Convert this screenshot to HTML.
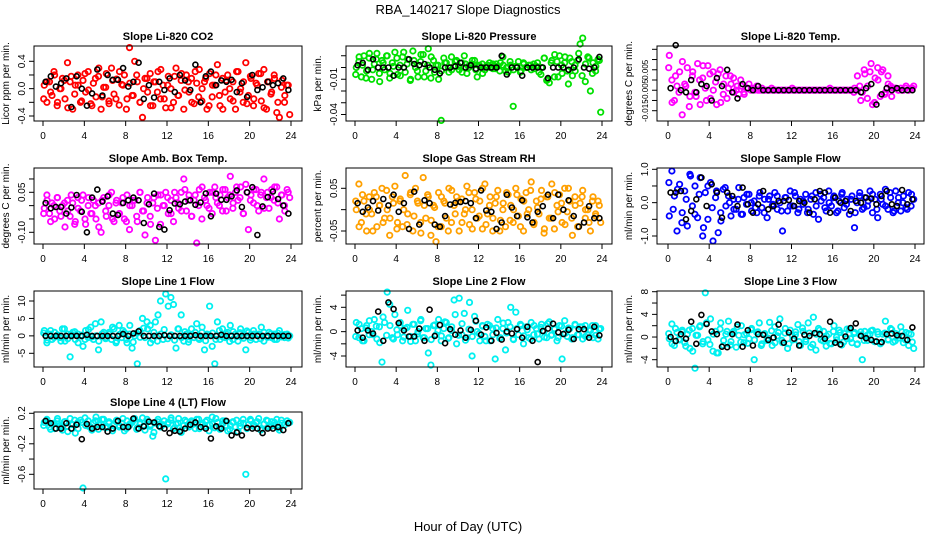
<!DOCTYPE html>
<html><head><meta charset="utf-8">
<style>
html,body{margin:0;padding:0;background:#fff;}
svg{display:block;font-family:"Liberation Sans",Arial,sans-serif;}
</style></head>
<body>
<svg id="chart" width="936" height="540" viewBox="0 0 936 540" xmlns="http://www.w3.org/2000/svg">
<rect x="0" y="0" width="936" height="540" fill="#fff"/>
<text x="468" y="14" text-anchor="middle" font-size="13">RBA_140217  Slope Diagnostics</text>
<text x="468" y="531" text-anchor="middle" font-size="13">Hour of Day (UTC)</text>
</svg>
<script>
const xTicks=[0,4,8,12,16,20,24];
const titles=["Slope Li-820 CO2","Slope Li-820 Pressure","Slope Li-820 Temp.","Slope Amb. Box Temp.","Slope Gas Stream RH","Slope Sample Flow","Slope Line 1 Flow","Slope Line 2 Flow","Slope Line 3 Flow","Slope Line 4 (LT) Flow"];
const yLabels=["Licor ppm per min.","kPa per min.","degrees C per min.","degrees C per min.","percent per min.","ml/min per min.","ml/min per min.","ml/min per min.","ml/min per min.","ml/min per min."];
const colors=["#ff0000","#00e000","#ff00ff","#ff00ff","#ffa000","#0000ff","#00f0f0","#00f0f0","#00f0f0","#00f0f0"];
const yTicks=[[-0.4,-0.2,0,0.2,0.4],[-0.04,-0.03,-0.02,-0.01,0,0.01],[-0.015,-0.01,-0.005,0,0.005,0.01,0.015],[-0.1,-0.05,0,0.05,0.1],[-0.05,0,0.05],[-1,-0.5,0,0.5,1],[-5,0,5,10],[-4,-2,0,2,4,6],[-4,-2,0,2,4,6,8],[-0.6,-0.4,-0.2,0,0.2]];
const yTickLabels=[["-0.4","","0.0","","0.4"],["-0.04","","","-0.01","",""],["-0.015","","-0.005","","0.005","",""],["-0.10","","","0.05",""],["-0.05","","0.05"],["-1.0","","0.0","","1.0"],["-5","0","5","10"],["-4","","0","","4",""],["-4","","0","","4","","8"],["-0.6","","-0.2","","0.2"]];

const co2=[0.05,-0.2,0.1,-0.1,0.2,-0.25,0.0,0.15,-0.15,0.38,0.1,-0.3,0.05,0.2,-0.2,0.12,-0.05,0.25,-0.22,0.08,-0.12,0.18,-0.3,0.02,0.22,-0.18,0.3,-0.08,0.14,-0.24,0.06,0.2,-0.15,0.6,-0.1,0.4,0.1,-0.2,-0.42,0.15,-0.05,0.22,-0.25,0.1,0.25,-0.15,0.05,-0.28,0.18,0.0,-0.2,0.3,-0.1,0.12,-0.3,0.2,-0.05,0.15,-0.22,0.08,0.28,-0.18,0.1,-0.3,0.22,-0.12,0.05,0.35,-0.25,0.15,-0.05,0.2,-0.15,0.1,-0.3,0.25,0.0,-0.2,0.38,-0.1,0.15,-0.25,0.08,0.22,-0.18,0.28,-0.3,0.1,-0.05,0.2,-0.35,-0.42,0.12,-0.2,0.05,-0.38];
const co2B=[-0.15,0.1,-0.05,0.25,-0.2,0.0,0.12,-0.28,0.18,-0.08,0.05,-0.18,0.22,-0.02,-0.25,0.15,0.3,-0.12,0.02,-0.22,0.12,-0.15,0.25,0.05,-0.3,0.08,-0.1,0.2,-0.2,0.0,0.15,-0.25,0.1,-0.05,0.28,-0.15,0.05,-0.28,0.18,-0.1,0.22,-0.02,0.1,-0.2,0.25,-0.12,0.0,0.15,-0.25,0.05,0.2,-0.1,-0.3,0.12,0.0,-0.18,0.25,-0.05,0.1,-0.22,0.18,-0.15,0.05,0.22,-0.28,0.1,-0.08,0.15,-0.2,0.02,-0.1,0.05];
const co2Ref=[0.1,0.18,0.03,0.08,0.15,-0.27,0.18,0.0,-0.25,-0.07,0.28,-0.1,0.2,0.13,0.13,0.3,0.03,0.1,0.38,-0.15,0.05,-0.13,0.1,-0.02,0.15,-0.05,0.2,0.12,-0.02,0.35,-0.2,0.18,0.25,0.05,0.12,0.1,0.13,-0.05,0.08,-0.12,0.2,-0.02,0.02,0.1,0.05,0.08,0.15,-0.02];
const pres=[0.0,0.005,-0.008,0.01,-0.003,0.008,-0.01,0.003,0.012,-0.005,0.006,-0.002,0.01,-0.009,0.004,0.013,-0.006,0.002,0.009,-0.004,0.007,-0.011,0.014,0.0,-0.008,0.005,0.011,-0.003,0.016,-0.009,0.006,0.002,-0.01,-0.045,0.008,0.004,-0.004,0.009,0.001,0.006,-0.002,0.004,0.01,-0.005,0.002,0.003,0.006,-0.008,0.001,0.003,-0.002,0.002,0.0,0.003,-0.001,0.001,0.004,0.009,-0.003,-0.004,0.002,-0.033,0.001,0.005,-0.003,0.004,0.0,0.002,-0.002,0.003,0.001,-0.004,0.0,0.008,-0.011,-0.013,0.006,-0.008,0.005,0.01,-0.005,0.004,-0.003,0.008,-0.007,0.002,0.006,0.02,0.025,-0.012,0.009,-0.02,0.004,-0.003,0.007,-0.038];
const presB=[-0.006,0.009,0.002,-0.009,0.012,-0.002,0.007,-0.012,0.004,0.01,-0.005,0.001,0.008,-0.007,0.013,0.003,-0.01,0.006,-0.003,0.011,-0.008,0.002,0.009,-0.004,0.002,-0.003,0.004,0.0,-0.002,0.005,0.001,-0.004,0.003,0.0,0.006,-0.002,0.002,-0.005,0.001,0.004,-0.001,0.003,-0.003,0.002,0.0,0.005,-0.002,0.001,-0.004,0.003,0.0,0.002,-0.001,0.004,-0.006,0.008,-0.01,0.004,0.011,-0.008,0.002,0.009,-0.014,0.005,-0.003,0.012,-0.007,0.003,0.008,-0.005,0.001,0.006];
const presRef=[0.002,0.004,-0.002,0.007,0.0,0.0,0.0,-0.007,0.0,0.0,0.007,0.003,0.002,0.003,0.0,-0.002,-0.005,0.0,0.0,0.001,0.004,0.0,0.002,-0.001,0.0,0.0,0.0,0.0,0.010,-0.006,0.0,0.0,-0.007,0.0,0.0,0.0,0.0,-0.009,0.0,0.0,0.0,-0.002,0.0,0.007,0.0,-0.001,0.0,0.009];
const temp=[0.012,0.0,-0.01,-0.003,0.004,-0.017,-0.002,0.006,-0.008,0.002,-0.006,0.008,-0.012,0.001,-0.004,0.007,-0.009,0.004,-0.001,0.003,-0.011,-0.007,0.002,-0.004,-0.002,0.001,-0.005,-0.007,-0.003,-0.006,-0.004,-0.002,-0.004,-0.005,-0.003,-0.005,-0.004,-0.005,-0.005,-0.005,-0.005,-0.005,-0.005,-0.005,-0.005,-0.005,-0.005,-0.005,-0.005,-0.005,-0.005,-0.005,-0.005,-0.005,-0.005,-0.005,-0.005,-0.005,-0.005,-0.005,-0.005,-0.005,-0.005,-0.005,-0.005,-0.005,-0.005,-0.005,-0.005,-0.005,-0.005,-0.005,-0.004,-0.005,-0.003,-0.006,0.003,-0.009,0.004,-0.012,0.001,0.006,-0.008,0.005,-0.006,0.002,-0.003,-0.004,-0.004,-0.005,-0.004,-0.005,-0.003,-0.005,-0.004,-0.003];
const tempB=[0.006,-0.011,0.002,-0.006,0.009,-0.003,-0.013,0.004,-0.008,0.0,0.007,-0.01,0.003,-0.005,-0.012,0.005,-0.002,-0.009,0.002,-0.006,-0.003,0.0,-0.007,-0.004,-0.005,-0.004,-0.005,-0.005,-0.005,-0.005,-0.004,-0.005,-0.005,-0.005,-0.005,-0.005,-0.004,-0.005,-0.005,-0.005,-0.005,-0.005,-0.005,-0.005,-0.005,-0.005,-0.005,-0.004,-0.005,-0.005,-0.005,-0.005,-0.005,-0.005,-0.006,0.002,-0.01,0.005,-0.003,0.008,-0.011,0.0,0.004,-0.007,-0.002,-0.008,-0.004,-0.005,-0.005,-0.004,-0.005,-0.004];
const tempRef=[-0.004,0.017,-0.005,-0.006,0.0,-0.006,-0.002,-0.003,-0.01,0.001,-0.003,0.005,-0.006,-0.009,-0.002,-0.004,-0.005,-0.003,-0.005,-0.005,-0.005,-0.005,-0.005,-0.005,-0.005,-0.005,-0.005,-0.005,-0.005,-0.005,-0.005,-0.005,-0.005,-0.005,-0.005,-0.005,-0.005,-0.006,-0.004,-0.002,-0.012,-0.007,-0.004,-0.005,-0.004,-0.005,-0.005,-0.005];
const amb=[-0.01,0.04,-0.03,0.01,-0.05,0.03,-0.02,0.0,-0.08,0.02,-0.04,0.01,-0.06,0.03,-0.02,0.04,-0.07,0.0,-0.03,0.02,-0.05,0.01,-0.1,0.03,-0.04,0.0,0.05,-0.06,0.02,-0.03,0.01,-0.05,0.04,-0.09,0.0,0.02,-0.06,0.05,-0.02,-0.11,0.03,-0.04,0.01,-0.13,0.04,-0.07,0.0,0.05,-0.03,0.02,-0.06,0.03,-0.01,0.05,0.1,-0.02,0.04,-0.04,0.02,-0.14,0.06,-0.05,0.03,0.0,0.05,-0.03,0.07,0.01,0.04,-0.02,0.06,0.03,0.11,-0.01,0.05,0.02,0.07,-0.03,0.08,-0.09,0.04,0.01,0.06,-0.02,0.05,0.1,0.03,-0.01,0.06,0.02,0.07,-0.05,0.04,0.0,0.06,0.03];
const ambB=[-0.03,0.02,-0.06,0.0,0.03,-0.04,0.01,-0.02,0.04,-0.07,-0.01,0.02,-0.05,0.03,-0.03,0.0,-0.08,0.02,-0.02,0.04,-0.05,0.01,-0.03,0.03,-0.06,0.0,0.02,-0.04,0.05,-0.02,0.01,-0.07,0.03,-0.01,0.04,0.0,0.03,-0.03,0.05,0.01,-0.02,0.06,0.02,-0.04,0.04,0.0,0.07,0.02,-0.01,0.05,0.03,0.0,0.06,-0.02,0.04,0.01,0.07,0.03,-0.03,0.05,0.02,0.06,0.0,0.04,-0.01,0.05,0.03,0.07,0.01,0.04,-0.02,0.05];
const ambRef=[0.01,-0.01,-0.005,-0.005,-0.03,-0.007,0.04,-0.023,-0.1,0.03,0.06,0.015,0.035,-0.03,-0.035,0.01,0.02,0.03,0.02,-0.065,0.005,0.045,-0.08,-0.09,-0.017,0.008,0.005,0.015,0.02,0.003,0.012,0.046,-0.04,0.045,0.022,0.022,0.035,0.057,-0.005,0.05,0.069,-0.11,-0.003,0.032,0.053,0.025,0.0,-0.03];
const rh=[0.0,0.06,-0.03,0.02,-0.05,0.03,-0.01,0.04,-0.04,0.01,0.05,-0.02,0.0,-0.06,0.03,0.055,-0.03,0.02,-0.04,0.08,-0.01,0.035,-0.05,0.05,0.015,-0.03,0.075,-0.02,0.03,-0.06,0.01,-0.075,0.04,-0.04,0.02,-0.02,0.05,-0.03,0.01,0.03,-0.05,0.025,-0.01,0.055,-0.035,0.0,0.04,-0.02,0.02,-0.045,0.06,-0.01,0.03,-0.05,0.015,0.045,-0.025,0.0,-0.04,0.035,0.01,-0.03,0.05,-0.015,0.025,-0.05,0.04,0.0,0.065,-0.035,0.02,-0.01,0.045,-0.055,0.03,-0.02,0.06,-0.045,0.01,0.035,-0.03,0.05,-0.005,0.02,-0.06,0.03,-0.04,0.015,0.045,-0.02,0.0,-0.05,0.03,-0.01,0.02,-0.03];
const rhB=[0.02,-0.04,0.035,-0.01,0.0,-0.05,0.03,0.01,-0.03,0.045,-0.02,0.015,-0.045,0.025,0.0,-0.035,0.04,-0.015,0.02,-0.055,0.01,0.035,-0.025,0.005,-0.04,0.03,0.015,-0.05,0.045,-0.01,0.02,-0.03,0.0,0.04,-0.045,0.025,-0.015,0.05,-0.035,0.01,-0.02,0.03,-0.05,0.015,0.04,-0.025,0.0,0.035,-0.04,0.02,-0.01,0.045,-0.03,0.005,0.025,-0.045,0.03,-0.02,0.04,-0.005,0.015,-0.035,0.05,-0.02,0.01,-0.04,0.03,0.0,-0.03,0.02,-0.015,0.01];
const rhRef=[0.015,-0.005,0.005,0.02,-0.002,0.025,0.01,0.035,-0.005,0.015,-0.045,0.042,-0.035,0.022,0.015,-0.035,-0.04,-0.015,0.012,0.016,0.018,0.02,0.015,-0.02,0.045,-0.002,-0.005,-0.045,-0.03,0.035,0.005,-0.015,0.022,-0.018,-0.03,-0.005,0.008,0.035,-0.02,0.035,0.0,0.022,-0.015,-0.04,-0.03,0.008,-0.02,-0.02];
const samp=[-0.4,0.95,0.2,-0.85,0.55,-0.3,0.35,-0.7,0.85,-0.1,0.5,-0.45,0.75,-1.0,0.3,-0.5,0.6,-1.15,0.15,-0.9,-0.3,0.4,-0.1,0.2,-0.4,0.1,-0.2,0.45,-0.35,0.15,-0.05,0.25,-0.25,0.05,-0.3,0.2,-0.15,0.1,-0.45,0.2,-0.1,0.3,-0.2,0.0,-0.85,0.15,-0.25,0.35,-0.1,0.2,-0.3,0.1,-0.05,0.25,-0.2,0.1,-0.35,0.3,-0.5,0.05,0.15,-0.25,0.35,-0.1,0.2,-0.3,0.05,0.25,-0.15,0.1,-0.35,0.2,-0.75,0.0,0.3,-0.2,0.15,-0.1,0.35,-0.3,0.1,-0.45,0.25,-0.05,0.4,-0.2,0.15,-0.3,0.35,0.0,-0.25,0.2,-0.15,0.3,-0.1,0.1];
const sampB=[0.6,-0.2,0.4,-0.6,0.1,0.8,-0.35,0.25,-0.75,0.5,-0.15,0.35,-0.55,0.45,0.0,-0.2,0.1,-0.35,0.25,0.0,-0.15,0.3,-0.3,0.1,-0.05,0.2,-0.25,0.15,-0.1,0.3,-0.2,0.05,-0.3,0.2,-0.1,0.25,-0.15,0.0,0.15,-0.25,0.3,-0.05,0.1,-0.3,0.2,-0.15,0.05,0.25,-0.2,0.1,-0.1,0.3,-0.25,0.15,0.0,-0.2,0.25];
const sampRef=[0.3,0.3,0.35,-0.5,-0.25,0.1,0.75,-0.1,0.55,0.3,-0.45,0.3,0.2,-0.1,0.45,-0.05,-0.3,-0.05,0.35,-0.2,-0.1,0.05,0.05,0.08,-0.1,0.05,0.0,-0.3,0.1,0.35,0.3,-0.3,0.15,0.0,0.05,-0.25,0.05,0.0,0.15,0.12,-0.05,0.2,0.35,-0.05,-0.1,0.38,-0.05,0.1];
const line1=[1.5,-2,0.5,-1,1,0,-0.5,2,-1.5,0.5,-6,1,-1,0.5,0,-3,1.5,-0.5,2.5,-1,0,-4,4,1,-0.5,0.5,-1,2,-1.5,3,-0.5,1,-2,0.5,-3.5,0,-8,1.5,5,-0.5,2,3,-1,4,6,10,-1,12,8.5,11,9,-3.5,2,6,-1.5,0.5,-1,2,-0.5,3.5,-1,1,-4,0.5,8.5,-3,-8,4,-1,2,-0.5,1,3,-1,0.5,-1.5,2,0,-4,1,-0.5,1.5,-1,0.5,2.5,-1.5,0,1,-0.5,0.5,-1,1.5,0,-0.5,0.5,0];
const line1B=[0.8,-1.2,1.5,-0.5,0.3,-1.5,2,-0.8,0.5,1.2,-2,0.2,-1,1.8,-0.3,3.5,-1.5,0.6,-0.8,1,2.5,-2,0.4,1.5,-1,3,-1.8,0.8,-0.4,2.2,4,-2,1,-1.5,0.5,1.8,-0.8,0.3,-1.2,2,-0.5,1.2,-1.8,0.4,1,-0.6,2.5,-1.4,0.2,0.8,-1,1.5,-0.3,0.6,-1.6,1.2,-0.2,0.9,-0.7,1.4,-1.2,0.5,0.2,-0.8,1,-0.4,0.6,-1,0.8,-0.3,0.4,-0.6];
const line1Ref=[0,0,0,0,0,0,0,0,0.3,0,0,0,0,0,0,0.5,0,0.7,1.3,0,0,0,0,0.2,0,0,0,0,0,0.2,0,0,0,0,0.3,0,0,0,0,0,0,0,0,0,0,0,0,0];
const line2=[1.5,-1,0.5,-1.5,1,-0.5,0,2,-1.2,0.8,-5,1.5,6.5,4.5,-1,2.8,-0.5,1,-1.5,0.5,3.5,-0.8,1.2,-1.5,0,1.8,-1,0.5,-3.5,-5.5,1,-0.5,2,-1.5,0.5,1.5,-1,0.2,5.2,-2,5.5,-0.5,3,-1,4.8,-4,2.5,0,-1.5,1,-0.8,1.2,-1.5,0.5,-4.5,2,-1,0.5,-3,1.5,4,-1.2,3.2,-0.5,1,-2,0.8,-1,1.5,-0.5,0.5,-1.2,1.2,0,-1,1.6,-0.5,0.5,-1.5,1,-4.5,1.8,-0.8,0.5,-1,1.2,-0.5,0.8,-1.2,1,-0.5,0.2,-1,1,-1.2,0.5];
const line2B=[-0.8,1.2,-1.5,0.6,1.8,-0.5,0.9,-1.8,2.4,-0.6,1,-1.2,0.3,1.5,-0.9,0.7,-1.6,1.2,-0.4,2,-1,0.5,-1.3,1.1,0.2,-0.7,1.6,-1.1,0.8,2.8,-0.6,1.3,-1.4,0.4,-0.8,1.7,-0.3,0.9,-1.5,1,-0.5,0.6,-1.1,1.4,-0.2,0.8,-1.3,0.5,1.2,-0.7,0.3,-1.2,1,-0.4,0.7,-0.9,1.3,-0.6,0.4,-1,0.9,-0.3,0.6,-1.2,1.1,-0.5,0.8,-0.8,0.3,1,-0.6,0.4];
const line2Ref=[0.2,-1,0.2,-0.3,3.3,-1.5,4.8,3.7,1.4,0.2,-0.8,-0.8,0.5,-1.5,3.6,-0.7,1.1,-1.9,0.4,-0.5,0.2,-1,0.3,1.8,-0.5,0.7,-1.5,-0.2,-1.3,0,-0.3,0.4,-1,0.8,-1.5,-5,0.1,0.5,1.3,-0.1,-0.4,0.3,-1.2,0.4,0.4,-1,0.8,-0.6];
const line3=[-0.3,2.3,-1.5,0.8,-0.5,1.2,-1,0.5,-2,1.5,-5.5,0.3,2,-1.2,7.8,-0.5,3.2,-2.5,1,-2.8,2.5,-1.5,0.5,2.8,-0.8,1,-1.8,0.3,2,-1,0.6,-0.3,1.5,-4,0.8,2.5,-1.2,0.4,-0.6,2.6,-1.5,1.8,0.2,3.2,-1,0.7,-2,1.2,-0.5,0.4,2.2,-1.5,1,-0.8,2.5,-1.8,3.5,-2.3,1.5,-0.5,1,-1.6,0.5,-1.2,2,0,1.2,-1.4,0.6,-0.3,1.4,-1,0.8,-1.3,0.4,-4,1,-0.6,0.5,1.2,-0.8,0.9,-1.2,0.5,2.8,-0.5,1.5,-0.9,0.6,-0.2,1.8,-1,0.8,-1.5,0.5,-2];
const line3B=[0.6,-1.2,1.5,-0.4,0.9,-1.6,1.2,-2.5,0.3,1.8,-0.8,2.5,-1.3,0.5,-2.8,1.4,-0.6,1,-1.4,0.7,1.8,-0.9,0.4,-1.1,1.3,-0.5,0.9,-1.5,0.6,-0.2,1.1,-1,0.8,-0.6,1.5,-1.2,0.3,0.9,-0.8,1.6,-0.4,0.7,-1.3,0.5,1.2,-0.7,0.2,-1.1,1,-0.5,0.8,-0.9,1.4,-0.3,0.6,-1.2,0.9,-0.6,0.4,1.1,-0.8,0.5,-1,0.7,-0.4,1.3,-0.7,0.2,0.9,-0.5,0.6,-0.9];
const line3Ref=[0,-0.7,0.5,-0.3,2.7,-1.2,3.9,2.3,1,0.5,-1.7,-1.8,0.5,2.2,-1.7,1.2,-1.5,0.5,0.4,-0.5,-0.1,2.2,-1,0.8,-0.3,-1.5,0.4,0.2,0.7,0.5,-0.3,2.7,-1,-1.3,0.1,1.6,2.4,0.2,-0.2,-0.5,-0.8,-0.9,0.5,0.6,0.3,0.2,-0.5,1.7];
const line4=[0.08,0.12,0.02,0.06,0.0,0.1,0.04,-0.02,0.09,0.03,0.13,0.05,-0.06,0.08,0.11,-0.78,0.04,0.1,0.02,0.07,0.15,-0.01,0.06,0.12,0.03,0.09,0.0,0.05,0.11,0.02,0.07,-0.03,0.1,0.04,0.08,0.13,0.01,0.06,0.14,-0.02,0.09,0.03,-0.1,0.07,0.12,0.02,0.05,-0.66,0.08,0.11,0.0,0.06,0.13,-0.05,0.04,0.09,0.02,0.1,0.06,0.12,0.0,0.07,0.03,0.11,0.05,0.15,0.01,0.08,-0.01,0.06,0.1,-0.03,0.04,0.09,0.02,-0.04,0.07,0.12,-0.6,0.05,0.1,0.03,0.08,0.13,0.0,0.06,0.11,0.02,0.09,0.04,0.12,-0.02,0.07,0.05,0.1,0.08];
const line4B=[0.04,0.1,-0.01,0.07,0.13,0.02,0.09,-0.04,0.06,0.11,0.0,0.08,0.14,0.03,-0.02,0.1,0.05,0.12,0.01,0.07,-0.03,0.09,0.04,0.13,0.0,0.06,0.11,-0.01,0.08,0.03,0.12,0.05,-0.05,0.09,0.02,0.1,0.06,0.14,0.01,0.07,-0.02,0.11,0.04,0.08,0.0,0.12,0.05,0.09,-0.03,0.06,0.13,0.02,0.1,0.04,-0.01,0.08,0.11,0.03,0.07,0.0,0.12,0.05,0.09,-0.02,0.06,0.1,0.03,0.08,0.01,0.11,0.05,0.07];
const line4Ref=[0.1,0.07,0.0,0.0,0.07,0.0,0.05,-0.14,0.06,0.0,0.02,0.02,-0.04,0.0,0.1,0.02,0.02,0.13,0.0,0.03,0.09,0.08,0.03,0.0,-0.06,-0.03,-0.04,0.0,0.05,0.08,0.02,0.0,-0.13,0.03,0.0,0.1,-0.09,-0.05,-0.09,0.01,0.0,0.0,-0.06,0.0,0.0,0.02,-0.02,0.07];
const series=[co2,pres,temp,amb,rh,samp,line1,line2,line3,line4];
const seriesB=[co2B,presB,tempB,ambB,rhB,sampB,line1B,line2B,line3B,line4B];
const refSeries=[co2Ref,presRef,tempRef,ambRef,rhRef,sampRef,line1Ref,line2Ref,line3Ref,line4Ref];

// layout (pixel geometry, not data)
const cols=[{l:34,r:302,x0:43,x24:291},{l:346,r:612,x0:355,x24:602},{l:657,r:924,x0:668,x24:915}];
const rows=[{t:46,b:121},{t:168,b:244},{t:291,b:367},{t:412,b:489}];
const yCal=[[0.4,61.3,-0.4,116],[0,67.5,-0.04,114.5],[0.015,49.3,-0.015,110.7],[0.05,192.3,-0.1,232.3],[0.05,188.3,-0.05,231],[1,169.3,-1,236],[10,301,-5,353.3],[4,307.3,-4,356],[8,291.7,-4,359.7],[0.2,413.3,-0.6,474.3]];

const svg=document.getElementById('chart');
const NS="http://www.w3.org/2000/svg";
function mk(tag,attrs,parent){const e=document.createElementNS(NS,tag);for(const k in attrs)e.setAttribute(k,attrs[k]);(parent||svg).appendChild(e);return e;}

for(let p=0;p<10;p++){
  const c=cols[p%3],r=rows[Math.floor(p/3)];
  const g=mk('g',{});
  
  
  const xs=h=>c.x0+(c.x24-c.x0)*h/24;
  const cal=yCal[p];
  const ys=v=>cal[1]+(v-cal[0])*(cal[3]-cal[1])/(cal[2]-cal[0]);
  const cx=(c.l+c.r)/2;
  const t=mk('text',{x:cx,y:r.t-6,'text-anchor':'middle','font-size':'11','font-weight':'bold'},g);
  t.textContent=titles[p];
  
  
  const yl=mk('text',{transform:`translate(${c.l-25},${(r.t+r.b)/2}) rotate(-90)`,'text-anchor':'middle','font-size':'10'},g);
  yl.textContent=yLabels[p];
  
  
  const d=series[p];
  for(let i=0;i<d.length;i++){
    const h=(i+0.5)*24/d.length;
    const pt=mk('circle',{cx:xs(h).toFixed(1),cy:ys(d[i]).toFixed(1),r:2.7,fill:'none',stroke:colors[p],'stroke-width':1.8},g);
    
    
  }
  const db=seriesB[p];
  for(let i=0;i<db.length;i++){
    const h=(i+0.2)*24/db.length;
    const pt=mk('circle',{cx:xs(h).toFixed(1),cy:ys(db[i]).toFixed(1),r:2.7,fill:'none',stroke:colors[p],'stroke-width':1.8},g);
    
    
  }
  const dr=refSeries[p];
  for(let i=0;i<dr.length;i++){
    const h=(i+0.5)*24/dr.length;
    const pt=mk('circle',{cx:xs(h).toFixed(1),cy:ys(dr[i]).toFixed(1),r:2.5,fill:'none',stroke:'#000','stroke-width':1.6},g);
    
    
  }
  const box=mk('rect',{x:c.l,y:r.t,width:c.r-c.l,height:r.b-r.t,fill:'none',stroke:'#000','stroke-width':1},g);
  
  
  mk('line',{x1:xs(0),x2:xs(24),y1:r.b,y2:r.b,stroke:'#000'},g);
  xTicks.forEach(v=>{
    mk('line',{x1:xs(v),x2:xs(v),y1:r.b,y2:r.b+5,stroke:'#000'},g);
    const tl=mk('text',{x:xs(v),y:r.b+18,'text-anchor':'middle','font-size':'10'},g);
    tl.textContent=v;
    
    
  });
  const yt=yTicks[p];
  mk('line',{x1:c.l,x2:c.l,y1:ys(yt[0]),y2:ys(yt[yt.length-1]),stroke:'#000'},g);
  yt.forEach((v,i)=>{
    const y=ys(v);
    mk('line',{x1:c.l-5,x2:c.l,y1:y,y2:y,stroke:'#000'},g);
    const lab=yTickLabels[p][i];
    if(lab){
      const tl=mk('text',{transform:`translate(${c.l-9},${y}) rotate(-90)`,'text-anchor':'middle','font-size':p===2?'8':'10'},g);
      tl.textContent=lab;
      
      
    }
  });
}
</script>
</body></html>
